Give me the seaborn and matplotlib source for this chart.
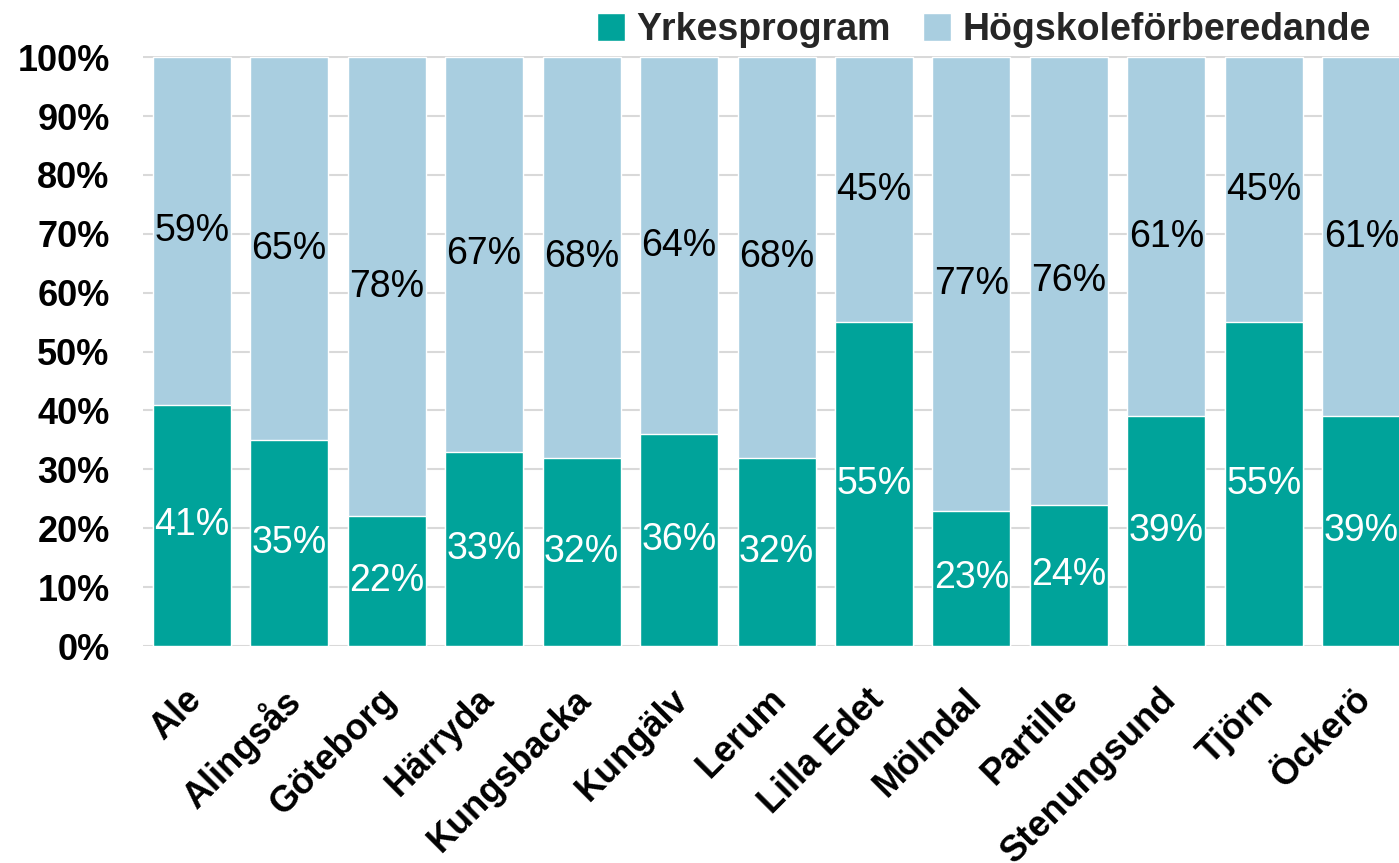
import pandas as pd
import numpy as np
import matplotlib
matplotlib.use('Agg')
import matplotlib.pyplot as plt
import matplotlib.transforms as mtransforms
import seaborn as sns

sns.set_style('white')
plt.rcParams['font.family'] = ['Liberation Sans', 'DejaVu Sans']

kommuner = ['Ale', 'Alingsås', 'Göteborg', 'Härryda', 'Kungsbacka', 'Kungälv', 'Lerum',
            'Lilla Edet', 'Mölndal', 'Partille', 'Stenungsund', 'Tjörn', 'Öckerö']
yrkes = [41, 35, 22, 33, 32, 36, 32, 55, 23, 24, 39, 55, 39]
hogsk = [59, 65, 78, 67, 68, 64, 68, 45, 77, 76, 61, 45, 61]

teal = '#00A39A'
ljusbla = '#A9CEE0'

df = pd.DataFrame({'kommun': kommuner, 'yrkes': yrkes, 'hogsk': hogsk})
df['total'] = df['yrkes'] + df['hogsk']

fig = plt.figure(figsize=(13.99, 8.63), dpi=100)
ax = fig.add_axes([0.1022, 0.2514, 0.9057, 0.6837])

sns.barplot(data=df, x='kommun', y='total', color=ljusbla, width=0.8,
            saturation=1, ax=ax, label='Högskoleförberedande', zorder=2)
sns.barplot(data=df, x='kommun', y='yrkes', color=teal, width=0.8,
            saturation=1, ax=ax, label='Yrkesprogram', zorder=3)

# etiketter i staplarna
for i, (y, h) in enumerate(zip(yrkes, hogsk)):
    ax.text(i, y / 2, f'{y}%', ha='center', va='center', color='white',
            fontsize=27, zorder=5)
    ax.text(i, y + h / 2, f'{h}%', ha='center', va='center', color='black',
            fontsize=27, zorder=5)

ax.set_ylim(0, 100.2)
ax.set_yticks(np.arange(0, 101, 10))
ax.set_yticklabels([f'{v}%' for v in range(0, 101, 10)], fontsize=26, fontweight='bold',
                   color='black')
ax.yaxis.grid(True, color='#d9d9d9', linewidth=1.5, zorder=0)
ax.set_axisbelow(True)
ax.tick_params(axis='y', length=0, pad=24)
ax.tick_params(axis='x', length=0, pad=26)
plt.setp(ax.get_xticklabels(), rotation=45, ha='right', rotation_mode='anchor',
         fontsize=26, fontweight='bold', color='black')
shift = mtransforms.ScaledTranslation(-8 / 100, 0, fig.dpi_scale_trans)
for lbl in ax.get_xticklabels():
    lbl.set_transform(lbl.get_transform() + shift)
ax.set_xlabel('')
ax.set_ylabel('')
sns.despine(ax=ax, left=True, bottom=True)

handles, labels = ax.get_legend_handles_labels()
if ax.get_legend() is not None:
    ax.get_legend().remove()
order = [labels.index('Yrkesprogram'), labels.index('Högskoleförberedande')]
fig.legend([handles[k] for k in order], [labels[k] for k in order],
           loc='upper right', bbox_to_anchor=(1.004, 1.025), ncol=2, frameon=False,
           handlelength=0.75, handleheight=0.75, handletextpad=0.3,
           columnspacing=0.85, prop={'weight': 'bold', 'size': 27})

fig.savefig('out.png', dpi=100)
